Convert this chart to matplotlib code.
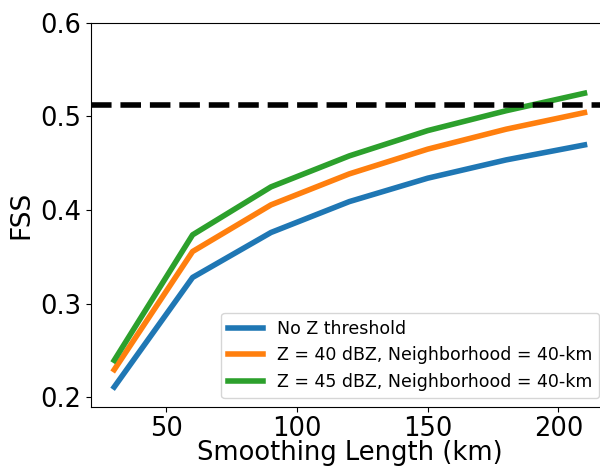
import matplotlib
matplotlib.use("Agg")
import matplotlib.pyplot as plt

smoothing_km = [30, 60, 90, 120, 150, 180, 210]
fss_no_threshold = [0.211, 0.328, 0.376, 0.409, 0.434, 0.4535, 0.4695]
fss_z40 = [0.2295, 0.3557, 0.4055, 0.4386, 0.465, 0.4863, 0.504]
fss_z45 = [0.2395, 0.3735, 0.4247, 0.4578, 0.4848, 0.506, 0.5247]
reference_fss = 0.5125
labels = ["No Z threshold",
          "Z = 40 dBZ, Neighborhood = 40-km",
          "Z = 45 dBZ, Neighborhood = 40-km"]

W, H = 600, 470
fig = plt.figure(figsize=(W / 100, H / 100), dpi=100)
left, right, top, bottom = 90.7, 608.0, 22.7, 406.7
ax = fig.add_axes([left / W, (H - bottom) / H, (right - left) / W, (bottom - top) / H])

ax.plot(smoothing_km, fss_no_threshold, color="#1f77b4", lw=4, label=labels[0])
ax.plot(smoothing_km, fss_z40, color="#ff7f0e", lw=4, label=labels[1])
ax.plot(smoothing_km, fss_z45, color="#2ca02c", lw=4, label=labels[2])
ax.axhline(reference_fss, color="black", lw=4, ls="--")

ax.set_ylim(0.19, 0.6)
ax.set_yticks([0.2, 0.3, 0.4, 0.5, 0.6])
ax.set_xticks([50, 100, 150, 200])
ax.tick_params(labelsize=18.5)
ax.set_xlabel("Smoothing Length (km)", fontsize=18.5, labelpad=-1.5)
ax.set_ylabel("FSS", fontsize=19)
ax.legend(loc="lower right", fontsize=12.5, handlelength=2.0)

fig.savefig("out.png", dpi=100)
